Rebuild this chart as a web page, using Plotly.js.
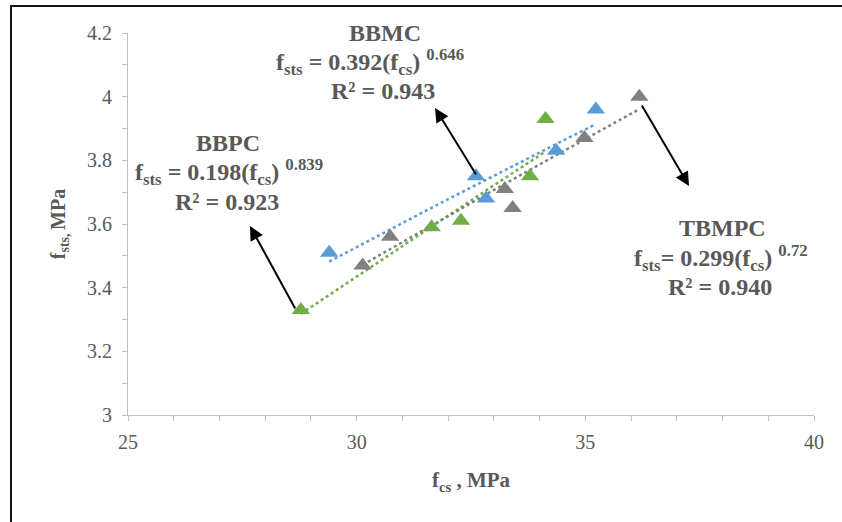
<!DOCTYPE html>
<html>
<head>
<meta charset="utf-8">
<script src="https://cdn.plot.ly/plotly-3.0.1.min.js"></script>
<style>html,body{margin:0;padding:0;background:#fff;}#chart{width:842px;height:522px;}</style>
</head>
<body>
<div id="chart"></div>
<script>
// ---- Data ----
const bbmcX  = [29.40, 32.61, 32.83, 34.36, 35.23];
const bbmcY  = [3.51, 3.75, 3.68, 3.83, 3.96];
const bbpcX  = [28.78, 31.64, 32.28, 33.79, 34.13];
const bbpcY  = [3.33, 3.59, 3.61, 3.75, 3.93];
const tbmpcX = [30.13, 30.73, 33.24, 33.41, 34.98, 36.18];
const tbmpcY = [3.47, 3.56, 3.71, 3.65, 3.87, 4.00];

const seriesNames  = ['BBMC', 'BBPC', 'TBMPC'];
const seriesColors = ['#5B9BD5', '#70AD47', '#808080'];
// power trend-line coefficients as printed on the chart: f_sts = a * f_cs^b
const trendA = [0.392, 0.198, 0.299];
const trendB = [0.646, 0.839, 0.72];

const xTitle = 'f<sub>cs</sub> , MPa';
const yTitle = 'f<sub>sts, </sub>MPa';

const labelBBMC  = ['BBMC', 'f<sub>sts</sub> = 0.392(f<sub>cs</sub>) <sup>0.646</sup>', 'R² = 0.943'];
const labelBBPC  = ['BBPC', 'f<sub>sts</sub> = 0.198(f<sub>cs</sub>) <sup>0.839</sup>', 'R² = 0.923'];
const labelTBMPC = ['TBMPC', 'f<sub>sts</sub>= 0.299(f<sub>cs</sub>) <sup>0.72</sup>', 'R² = 0.940'];

// ---- Layout geometry ----
const W = 842, H = 522;
const M = {l: 128, r: 28, t: 33, b: 107};
const PW = W - M.l - M.r, PH = H - M.t - M.b;
const px = x => (x - M.l) / PW;
const py = y => (H - M.b - y) / PH;

function trendLine(xs, a, b) {
  const x0 = Math.min(...xs), x1 = Math.max(...xs);
  const tx = [], ty = [];
  for (let i = 0; i <= 40; i++) { const x = x0 + (x1 - x0) * i / 40; tx.push(x); ty.push(a * Math.pow(x, b)); }
  return {tx, ty};
}

const allX = [bbmcX, bbpcX, tbmpcX];
const allY = [bbmcY, bbpcY, tbmpcY];
const traces = [];
for (let i = 0; i < 3; i++) {
  const f = trendLine(allX[i], trendA[i], trendB[i]);
  traces.push({x: f.tx, y: f.ty, mode: 'lines', name: seriesNames[i] + ' trend',
    line: {color: seriesColors[i], width: 2.5, dash: 'dot'}, hoverinfo: 'skip', showlegend: false});
}
for (let i = 0; i < 3; i++) {
  traces.push({x: allX[i], y: allY[i], mode: 'markers', name: seriesNames[i],
    marker: {symbol: 'triangle-up', size: 16, color: seriesColors[i]}, showlegend: false});
}

const serif = '"Liberation Serif", "Times New Roman", serif';
const txtFont = {family: serif, size: 24, color: '#595959'};

function textAnn(t, x, y) {
  return {text: '<b>' + t + '</b>', xref: 'paper', yref: 'paper', x: px(x), y: py(y),
    xanchor: 'center', yanchor: 'middle', showarrow: false, font: txtFont};
}
function arrowAnn(hx, hy, tx, ty) {
  return {text: '', xref: 'paper', yref: 'paper', x: px(hx), y: py(hy),
    axref: 'pixel', ayref: 'pixel', ax: tx - hx, ay: ty - hy,
    showarrow: true, arrowhead: 2, arrowsize: 1.4, arrowwidth: 2, arrowcolor: '#000', standoff: 0, startstandoff: 0};
}

const annotations = [
  textAnn(labelBBMC[0], 385, 33), textAnn(labelBBMC[1], 370, 62), textAnn(labelBBMC[2], 383, 91),
  textAnn(labelBBPC[0], 228, 143), textAnn(labelBBPC[1], 229, 172), textAnn(labelBBPC[2], 227, 202),
  textAnn(labelTBMPC[0], 722, 228), textAnn(labelTBMPC[1], 721, 258), textAnn(labelTBMPC[2], 720, 287),
  arrowAnn(435, 108, 477, 176),
  arrowAnn(250, 226, 296, 310),
  arrowAnn(689, 186, 641, 104)
];

const axisCommon = {
  showgrid: false, zeroline: false, showline: true, linecolor: '#BFBFBF', linewidth: 1,
  ticks: 'outside', ticklen: 5, tickcolor: '#BFBFBF', tickwidth: 1,
  tickfont: {family: serif, size: 20, color: '#595959'}
};

const layout = {
  width: W, height: H, margin: M, paper_bgcolor: '#fff', plot_bgcolor: '#fff',
  font: {family: serif},
  xaxis: Object.assign({}, axisCommon, {range: [25, 40], dtick: 5, tick0: 25,
    minor: {dtick: 1, ticks: 'outside', ticklen: 5, tickcolor: '#BFBFBF', showgrid: false},
    ticklabelstandoff: 4,
    title: {text: '<b>' + xTitle + '</b>', font: {family: serif, size: 21, color: '#595959'}, standoff: 20}}),
  yaxis: Object.assign({}, axisCommon, {range: [3, 4.2], dtick: 0.2, tick0: 3,
    minor: {dtick: 0.1, ticks: 'outside', ticklen: 5, tickcolor: '#BFBFBF', showgrid: false},
    ticklabelstandoff: 6,
    title: {text: '<b>' + yTitle + '</b>', font: {family: serif, size: 20, color: '#595959'}, standoff: 16}}),
  annotations: annotations,
  shapes: [{type: 'rect', xref: 'paper', yref: 'paper', x0: px(11), x1: px(860), y0: py(540), y1: py(6),
    line: {color: '#111', width: 2}, fillcolor: 'rgba(0,0,0,0)', layer: 'below'}],
  showlegend: false
};

Plotly.newPlot('chart', traces, layout, {displayModeBar: false, staticPlot: true});
</script>
</body>
</html>
